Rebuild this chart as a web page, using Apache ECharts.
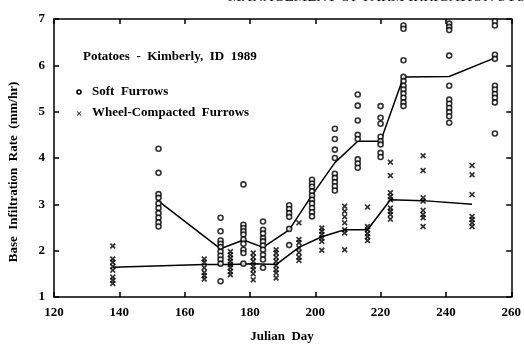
<!DOCTYPE html>
<html>
<head>
<meta charset="utf-8">
<script src="https://cdn.jsdelivr.net/npm/echarts@6/dist/echarts.min.js"></script>
<style>
  html, body { margin: 0; padding: 0; background: #fff; }
  #chart { width: 524px; height: 350px; }
</style>
</head>
<body>
<div id="chart"></div>
<script>
const softDays = [152, 171, 178, 184, 192, 199, 206, 213, 220, 227, 241, 255];
const softValues = [
  [4.2, 3.68, 3.22, 3.14, 3.02, 2.92, 2.81, 2.71, 2.61, 2.52],
  [2.71, 2.42, 2.22, 2.15, 2.08, 1.98, 1.89, 1.81, 1.72, 1.34],
  [3.43, 2.56, 2.49, 2.42, 2.35, 2.24, 2.15, 2.02, 1.95, 1.72],
  [2.63, 2.45, 2.37, 2.27, 2.2, 2.11, 2.02, 1.91, 1.81, 1.63],
  [2.98, 2.9, 2.81, 2.73, 2.47, 2.12],
  [3.53, 3.45, 3.38, 3.28, 3.19, 3.1, 3.02, 2.92, 2.83, 2.74],
  [4.63, 4.41, 4.18, 4.0, 3.66, 3.57, 3.48, 3.39, 3.3],
  [5.37, 5.13, 4.81, 4.5, 4.41, 3.97, 3.88, 3.79],
  [5.12, 4.87, 4.74, 4.46, 4.36, 4.29, 4.11, 4.02],
  [6.86, 6.79, 6.11, 5.75, 5.66, 5.56, 5.48, 5.39, 5.3, 5.2, 5.12],
  [6.9, 6.83, 6.76, 6.21, 5.56, 5.26, 5.17, 5.08, 4.99, 4.9, 4.76],
  [6.95, 6.86, 6.23, 6.14, 5.56, 5.48, 5.38, 5.3, 5.2, 4.53]
];
const softMeans = [3.07, 2.04, 2.23, 2.07, 2.45, 3.2, 3.9, 4.36, 4.36, 5.75, 5.76, 6.16];

const wheelDays = [138, 166, 174, 181, 188, 195, 202, 209, 216, 223, 233, 248];
const wheelValues = [
  [2.1, 1.82, 1.75, 1.66, 1.58, 1.43, 1.36, 1.29],
  [1.82, 1.75, 1.63, 1.53, 1.46, 1.39],
  [1.98, 1.91, 1.84, 1.77, 1.7, 1.63, 1.55, 1.48],
  [1.95, 1.86, 1.77, 1.66, 1.59, 1.5, 1.37],
  [2.02, 1.95, 1.86, 1.77, 1.68, 1.59, 1.52, 1.41],
  [2.6, 2.24, 2.17, 2.06, 1.96, 1.86, 1.79],
  [2.49, 2.42, 2.35, 2.27, 2.2, 2.01],
  [2.96, 2.85, 2.73, 2.6, 2.45, 2.38, 2.02],
  [2.94, 2.52, 2.45, 2.37, 2.3, 2.22],
  [3.91, 3.62, 3.25, 3.17, 3.1, 2.92, 2.85, 2.78, 2.68],
  [4.05, 3.73, 3.14, 3.07, 2.87, 2.78, 2.71, 2.52],
  [3.84, 3.64, 3.21, 2.74, 2.67, 2.6, 2.52]
];
const wheelMeans = [1.64, 1.7, 1.7, 1.72, 1.7, 2.07, 2.3, 2.45, 2.45, 3.1, 3.08, 3.0];

const xTicks = [120, 140, 160, 180, 200, 220, 240, 260];
const yTicks = [1, 2, 3, 4, 5, 6, 7];

function points(days, values) {
  const out = [];
  days.forEach((d, i) => values[i].forEach(v => out.push([d, v])));
  return out;
}
function pairs(days, vals) {
  return days.map((d, i) => [d, vals[i]]);
}

const serif = 'Liberation Serif';
const crossPath = 'path://M0,2L2,0L5,3L8,0L10,2L7,5L10,8L8,10L5,7L2,10L0,8L3,5Z';

const chart = echarts.init(document.getElementById('chart'));
const axisLine = { show: true, lineStyle: { color: '#000', width: 1.5 } };
const tick = { show: true, inside: true, length: 5, lineStyle: { color: '#000', width: 1.5 } };

chart.setOption({
  animation: false,
  backgroundColor: '#fff',
  grid: { left: 54, right: 12, top: 19, bottom: 53 },
  xAxis: [
    {
      type: 'value', min: xTicks[0], max: xTicks[xTicks.length - 1], interval: 20,
      axisLine: axisLine, axisTick: tick, splitLine: { show: false },
      axisLabel: { color: '#000', fontFamily: serif, fontSize: 13, fontWeight: 'bold', margin: 9 }
    },
    {
      type: 'value', position: 'top', min: xTicks[0], max: xTicks[xTicks.length - 1], interval: 20,
      axisLine: axisLine, axisTick: tick, axisLabel: { show: false }, splitLine: { show: false }
    }
  ],
  yAxis: [
    {
      type: 'value', min: yTicks[0], max: yTicks[yTicks.length - 1], interval: 1,
      axisLine: axisLine, axisTick: tick, splitLine: { show: false },
      axisLabel: { color: '#000', fontFamily: serif, fontSize: 13, fontWeight: 'bold', margin: 9 }
    },
    {
      type: 'value', position: 'right', min: yTicks[0], max: yTicks[yTicks.length - 1], interval: 1,
      axisLine: axisLine, axisTick: tick, axisLabel: { show: false }, splitLine: { show: false }
    }
  ],
  series: [
    {
      type: 'line', data: pairs(softDays, softMeans), symbol: 'none',
      lineStyle: { color: '#000', width: 1.5 }, z: 3
    },
    {
      type: 'line', data: pairs(wheelDays, wheelMeans), symbol: 'none',
      lineStyle: { color: '#000', width: 1.5 }, z: 3
    },
    {
      type: 'scatter', data: points(softDays, softValues), symbol: 'circle', symbolSize: 5,
      itemStyle: { color: '#fff', borderColor: '#000', borderWidth: 1.6 }, z: 4
    },
    {
      type: 'scatter', data: points(wheelDays, wheelValues), symbol: crossPath, symbolSize: 6,
      itemStyle: { color: '#000' }, z: 4
    }
  ],
  graphic: [
    {
      type: 'text', left: 228, top: -10,
      style: { text: 'MANAGEMENT OF FARM IRRIGATION SYSTEMS', font: '15px "Liberation Serif"', fill: '#000' }
    },
    {
      type: 'text', left: 83, top: 50,
      style: { text: 'Potatoes  -  Kimberly,  ID  1989', font: 'bold 13px "Liberation Serif"', fill: '#000' }
    },
    {
      type: 'circle', shape: { cx: 79, cy: 92, r: 2 },
      style: { fill: '#fff', stroke: '#000', lineWidth: 1.6 }
    },
    {
      type: 'text', left: 92, top: 85,
      style: { text: 'Soft  Furrows', font: 'bold 13px "Liberation Serif"', fill: '#000' }
    },
    {
      type: 'text', left: 76, top: 109,
      style: { text: '×', font: 'bold 11px "Liberation Serif"', fill: '#000' }
    },
    {
      type: 'text', left: 92, top: 106,
      style: { text: 'Wheel-Compacted  Furrows', font: 'bold 13px "Liberation Serif"', fill: '#000' }
    },
    {
      type: 'text', x: 14, y: 172, rotation: Math.PI / 2,
      style: {
        text: 'Base  Infiltration  Rate  (mm/hr)', font: 'bold 13px "Liberation Serif"', fill: '#000',
        align: 'center', verticalAlign: 'middle'
      }
    },
    {
      type: 'text', x: 282, y: 337,
      style: {
        text: 'Julian  Day', font: 'bold 13px "Liberation Serif"', fill: '#000',
        align: 'center', verticalAlign: 'middle'
      }
    }
  ]
});
</script>
</body>
</html>
